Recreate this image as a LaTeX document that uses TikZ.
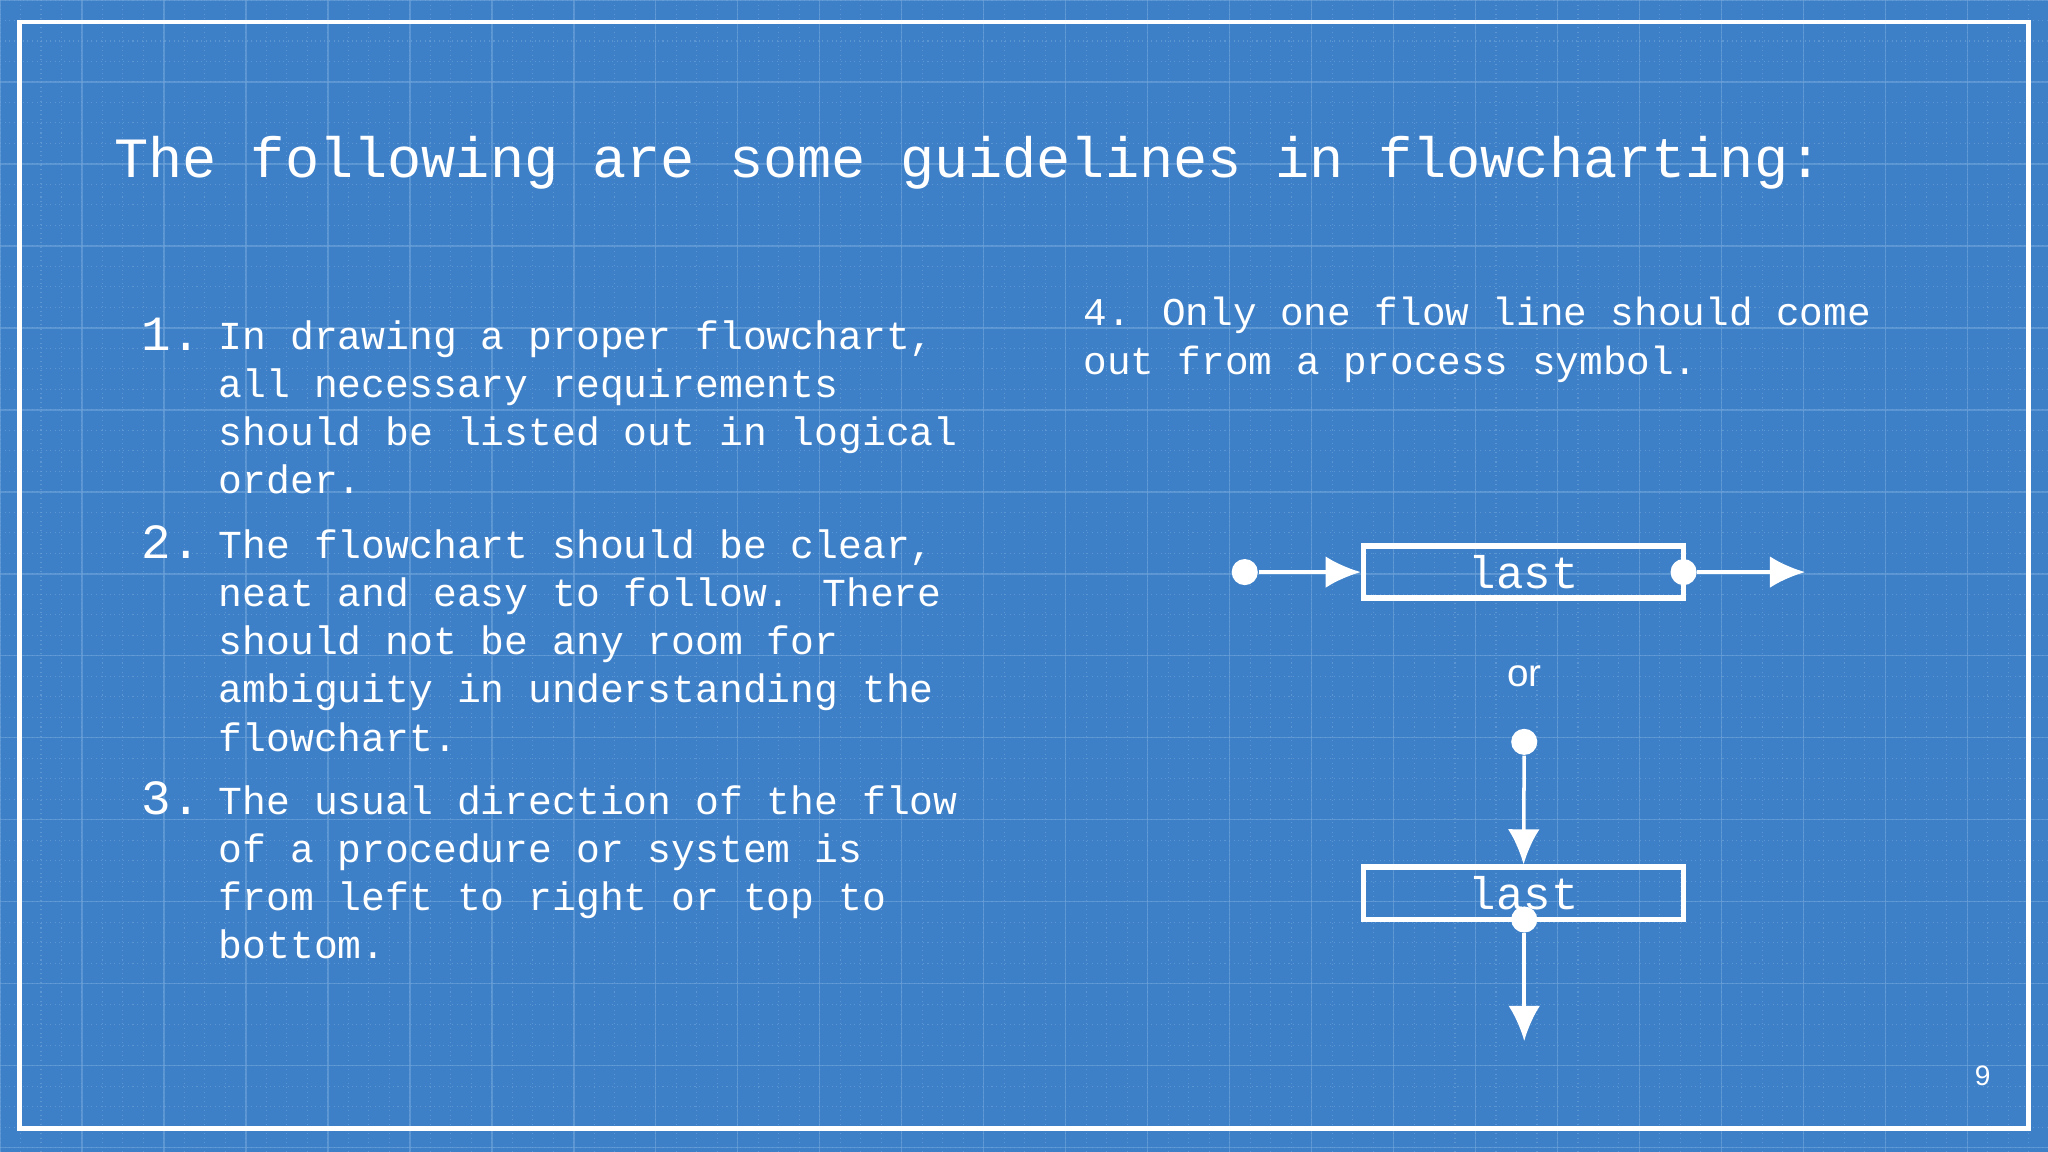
\documentclass[tikz,border=0pt]{standalone}
\usepackage{fontspec}
\setmainfont{Liberation Sans}
\newfontfamily\monof{Liberation Mono}
\definecolor{bgblue}{HTML}{3D80C8}
\definecolor{gridc}{HTML}{6FA3DA}
\begin{document}
\begin{tikzpicture}[x=0.013061cm,y=-0.013061cm,
  txt/.style={text=white,font=\monof\fontsize{11.3}{13.7}\selectfont,anchor=north west,align=left,inner sep=0pt},
  num/.style={text=white,font=\monof\fontsize{14}{14}\selectfont,anchor=north west,inner sep=0pt},
  pbox/.style={draw=white,line width=1.6pt,minimum width=245*0.013061cm,minimum height=40*0.013061cm,inner sep=0pt,text=white,font=\monof\fontsize{13}{13}\selectfont},
  dotn/.style={circle,fill=white,minimum size=20*0.013061cm,inner sep=0pt},
  flow/.style={draw=white,line width=1pt,-{Latex[length=10pt,width=9pt]}}]
\usetikzlibrary{arrows.meta}
\fill[bgblue] (0,0) rectangle (1568,882);
\useasboundingbox (0,0) rectangle (1568,882);
\foreach \i in {0,...,100} {
  \pgfmathsetmacro\xx{\i*15.69}
  \draw[gridc,line width=0.3pt,densely dotted,opacity=0.6] (\xx,0) -- (\xx,882);
  \draw[gridc,line width=0.3pt,densely dotted,opacity=0.6] (0,\xx) -- (1568,\xx);
}
\foreach \i in {0,...,25} {
  \pgfmathsetmacro\xx{\i*62.76}
  \draw[gridc,line width=0.4pt,opacity=0.6] (\xx,0) -- (\xx,882);
  \draw[gridc,line width=0.4pt,opacity=0.6] (0,\xx) -- (1568,\xx);
}
\draw[white,line width=1.2pt] (15,17) rectangle (1553,864);
\node[text=white,font=\monof\fontsize{16.2}{16.2}\selectfont,anchor=west,inner sep=0pt] (title) at (87,125) {The following are some guidelines in flowcharting:};
\node[num] (n1) at (108,243) {1.};
\node[txt] (t1) at (167,245) {In drawing a proper flowchart,\\all necessary requirements\\should be listed out in logical\\order.};
\node[num] (n2) at (108,402) {2.};
\node[txt] (t2) at (167,405) {The flowchart should be clear,\\neat and easy to follow. There\\should not be any room for\\ambiguity in understanding the\\flowchart.};
\node[num] (n3) at (108,598) {3.};
\node[txt] (t3) at (167,601) {The usual direction of the flow\\of a procedure or system is\\from left to right or top to\\bottom.};
\node[txt,font=\monof\fontsize{11.2}{14}\selectfont] (t4) at (829,227) {4. Only one flow line should come\\out from a process symbol.};
\node[pbox] (b1) at (1166.5,438) {last};
\node[dotn] (d1) at (953,438) {};
\node[dotn] (d2) at (1289,438) {};
\coordinate (e1) at (1382,438);
\draw[flow] (d1) -- (b1.west);
\draw[flow] (d2) -- (e1);
\node[text=white,font=\fontsize{11}{11}\selectfont] (or) at (1167,518) {or};
\node[pbox] (b2) at (1166.5,684) {last};
\node[dotn] (d3) at (1167,568) {};
\node[dotn] (d4) at (1167,704) {};
\coordinate (e2) at (1167,797);
\draw[flow] (d3) -- (b2.north);
\draw[flow] (d4) -- (e2);
\node[text=white,font=\fontsize{8}{8}\selectfont] (pg) at (1518,824) {9};
\end{tikzpicture}
\end{document}
